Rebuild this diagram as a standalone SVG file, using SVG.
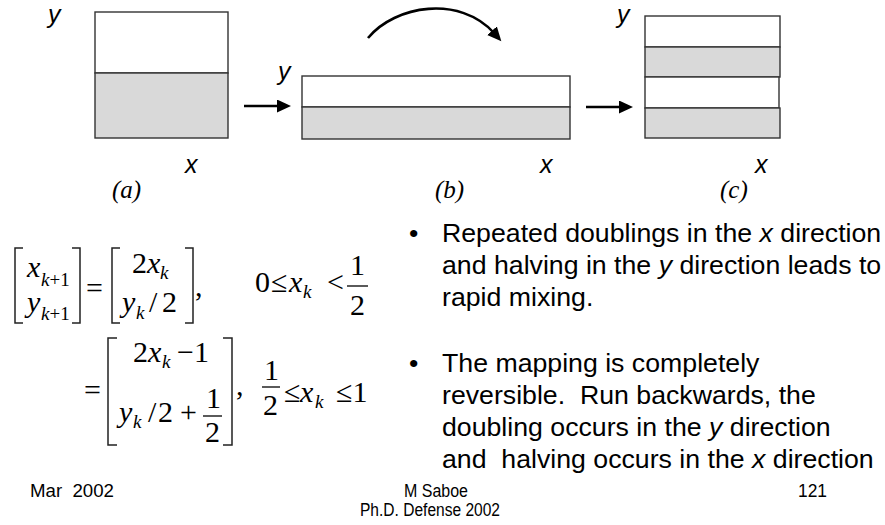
<svg xmlns="http://www.w3.org/2000/svg" width="885" height="525" viewBox="0 0 885 525">
<style>
.bg{fill:#fff}
.wh{fill:#fff;stroke:#333;stroke-width:1.4}
.gr{fill:#d9d9d9;stroke:#333;stroke-width:1.4}
.arr{fill:none;stroke:#000;stroke-width:2.6;marker-end:url(#ah)}
.lab{font-family:"Liberation Sans",Arial,sans-serif;font-style:italic;font-size:25px;fill:#000}
.cap{font-family:"Liberation Serif","Times New Roman",serif;font-style:italic;font-size:25px;fill:#000}
.tm{font-family:"Liberation Serif","Times New Roman",serif;font-size:30px;fill:#000}
.it{font-style:italic}
.sb{font-size:19px}
.br{fill:none;stroke:#222;stroke-width:1.5}
.bar{stroke:#000;stroke-width:1.3}
.bt{font-family:"Liberation Sans",Arial,sans-serif;font-size:26.7px;fill:#000}
.ft{font-family:"Liberation Sans Narrow","Liberation Sans",Arial,sans-serif;font-size:17.5px;fill:#000}
</style>
<defs>
<marker id="ah" markerUnits="userSpaceOnUse" markerWidth="15" markerHeight="14" refX="3" refY="6.5" orient="auto">
<path d="M0,0 L14,6.5 L0,13 z" fill="#000"/>
</marker>
</defs>
<rect class="bg" x="0" y="0" width="885" height="525"/>

<g id="panel-a">
<rect class="wh" x="95" y="12" width="133" height="61"/>
<rect class="gr" x="95" y="73" width="133" height="65"/>
<text class="lab" x="48" y="23">y</text>
<text class="lab" x="185" y="173">x</text>
<text class="cap" x="112" y="198">(a)</text>
</g>

<g id="panel-b">
<rect class="wh" x="302" y="76" width="268" height="31"/>
<rect class="gr" x="302" y="107" width="268" height="32"/>
<text class="lab" x="278" y="80">y</text>
<text class="lab" x="540" y="173">x</text>
<text class="cap" x="435" y="198">(b)</text>
</g>

<g id="panel-c">
<rect class="wh" x="645" y="16" width="135" height="31"/>
<rect class="gr" x="645" y="47" width="135" height="30"/>
<rect class="wh" x="645" y="77" width="134" height="31"/>
<rect class="gr" x="645" y="108" width="135" height="30"/>
<text class="lab" x="617" y="23">y</text>
<text class="lab" x="755" y="173">x</text>
<text class="cap" x="720" y="198">(c)</text>
</g>

<g id="connectors">
<line class="arr" x1="244" y1="106" x2="280" y2="106"/>
<line class="arr" x1="586" y1="107" x2="622" y2="107"/>
<path class="arr" d="M368,38 C395,5 460,-5 494,33"/>
</g>

<g id="equations">
<path class="br" d="M23,248 H15 V323 H23 M72,248 H80 V323 H72"/>
<text class="tm it" x="27" y="277">x</text>
<text class="tm sb" x="41" y="286"><tspan class="it">k</tspan>+1</text>
<text class="tm it" x="27" y="312">y</text>
<text class="tm sb" x="41" y="320"><tspan class="it">k</tspan>+1</text>
<text class="tm" x="86" y="298">=</text>
<path class="br" d="M120,248 H112 V323 H120 M185,248 H193 V323 H185"/>
<text class="tm" x="132" y="273">2<tspan class="it">x</tspan></text>
<text class="tm sb it" x="160" y="279">k</text>
<text class="tm it" x="122" y="312">y</text>
<text class="tm sb it" x="136" y="319">k</text>
<text class="tm" x="149" y="312">/</text>
<text class="tm" x="162" y="312">2</text>
<text class="tm" x="195" y="296">,</text>
<text class="tm" x="255" y="292">0</text>
<text class="tm" x="271" y="292">≤</text>
<text class="tm it" x="289" y="292">x</text>
<text class="tm sb it" x="303" y="298">k</text>
<text class="tm" x="327" y="292">&lt;</text>
<text class="tm" x="350" y="275">1</text>
<line class="bar" x1="347" y1="286" x2="368" y2="286"/>
<text class="tm" x="350" y="315">2</text>

<text class="tm" x="84" y="400">=</text>
<path class="br" d="M117,338 H108 V445 H117 M223,338 H232 V445 H223"/>
<text class="tm" x="133" y="362">2<tspan class="it">x</tspan></text>
<text class="tm sb it" x="162" y="368">k</text>
<text class="tm" x="177" y="362">−1</text>
<text class="tm it" x="119" y="422">y</text>
<text class="tm sb it" x="133" y="428">k</text>
<text class="tm" x="148" y="422">/</text>
<text class="tm" x="158" y="422">2</text>
<text class="tm" x="180" y="422">+</text>
<text class="tm" x="206" y="408">1</text>
<line class="bar" x1="203" y1="416" x2="222" y2="416"/>
<text class="tm" x="205" y="442">2</text>
<text class="tm" x="236" y="395">,</text>
<text class="tm" x="264" y="380">1</text>
<line class="bar" x1="262" y1="387" x2="280" y2="387"/>
<text class="tm" x="263" y="415">2</text>
<text class="tm" x="284" y="402">≤</text>
<text class="tm it" x="300" y="402">x</text>
<text class="tm sb it" x="315" y="408">k</text>
<text class="tm" x="336" y="402">≤1</text>
</g>

<g id="bullets">
<text class="bt" x="409" y="242">•</text>
<text class="bt" x="442" y="242">Repeated doublings in the <tspan class="it">x</tspan> direction</text>
<text class="bt" x="442" y="274">and halving in the <tspan class="it">y</tspan> direction leads to</text>
<text class="bt" x="442" y="306">rapid mixing.</text>
<text class="bt" x="409" y="372">•</text>
<text class="bt" x="442" y="372">The mapping is completely</text>
<text class="bt" x="442" y="404" xml:space="preserve">reversible.  Run backwards, the</text>
<text class="bt" x="442" y="436">doubling occurs in the <tspan class="it">y</tspan> direction</text>
<text class="bt" x="442" y="468" xml:space="preserve">and  halving occurs in the <tspan class="it">x</tspan> direction</text>
</g>

<g id="footer">
<text class="ft" x="30" y="497" xml:space="preserve" textLength="84" lengthAdjust="spacingAndGlyphs">Mar  2002</text>
<text class="ft" x="404" y="497" textLength="64" lengthAdjust="spacingAndGlyphs">M Saboe</text>
<text class="ft" x="360" y="516" textLength="140" lengthAdjust="spacingAndGlyphs">Ph.D. Defense 2002</text>
<text class="ft" x="798" y="497" textLength="29" lengthAdjust="spacingAndGlyphs">121</text>
</g>
</svg>
